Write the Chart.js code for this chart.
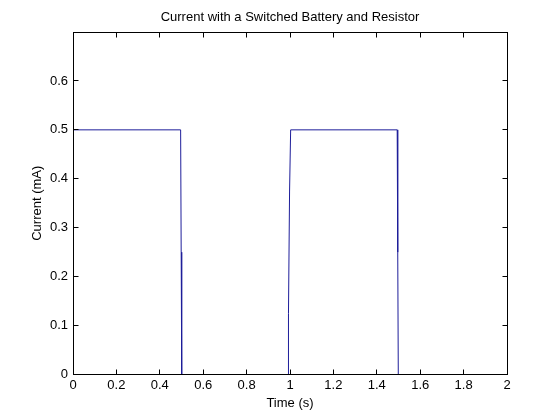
<!DOCTYPE html>
<html>
<head>
<meta charset="utf-8">
<script src="https://cdn.jsdelivr.net/npm/chart.js@4"></script>
<style>
  html, body { margin: 0; padding: 0; background: #fff; }
  canvas { display: block; }
</style>
</head>
<body>
<canvas id="chart" width="560" height="420"></canvas>
<script>
// switched battery: current in mA against time in s
const timeS = [0, 0.496, 0.4985, 0.501, 0.992, 0.993, 0.998, 1.003, 1.494, 1.4965, 1.499, 2];
const currentMA = [0.5, 0.5, 0.25, 0, 0, 0.125, 0.375, 0.5, 0.5, 0.25, 0, 0];
const xTicks = [0, 0.2, 0.4, 0.6, 0.8, 1, 1.2, 1.4, 1.6, 1.8, 2];
const yTicks = [0, 0.1, 0.2, 0.3, 0.4, 0.5, 0.6];

const FONT = "'Liberation Sans', Arial, sans-serif";
const fmt = v => String(Number(v.toFixed(1)));

// matlab-ish box with inward ticks on all four sides
const boxTicks = {
  id: 'boxTicks',
  afterDraw(chart) {
    const { ctx, chartArea: a, scales } = chart;
    const len = 5;
    const L = Math.floor(a.left) + 0.5, R = Math.floor(a.right) + 0.5;
    const T = Math.floor(a.top) + 0.5, B = Math.floor(a.bottom) + 0.5;
    ctx.save();
    ctx.strokeStyle = '#000';
    ctx.lineWidth = 1;
    ctx.beginPath();
    xTicks.forEach(v => {
      const x = Math.floor(scales.x.getPixelForValue(v)) + 0.5;
      ctx.moveTo(x, B); ctx.lineTo(x, B - len);
      ctx.moveTo(x, T); ctx.lineTo(x, T + len);
    });
    yTicks.forEach(v => {
      const y = Math.floor(scales.y.getPixelForValue(v)) + 0.5;
      ctx.moveTo(L, y); ctx.lineTo(L + len, y);
      ctx.moveTo(R, y); ctx.lineTo(R - len, y);
    });
    ctx.stroke();
    ctx.strokeRect(L, T, R - L, B - T);
    ctx.restore();
  }
};

new Chart(document.getElementById('chart'), {
  type: 'line',
  data: {
    datasets: [{
      data: timeS.map((t, i) => ({ x: t, y: currentMA[i] })),
      borderColor: '#1e1e9a',
      borderWidth: 1,
      pointRadius: 0,
      tension: 0,
      fill: false
    }]
  },
  options: {
    responsive: false,
    animation: false,
    layout: { padding: { left: 0, right: 53, top: 0, bottom: 0 } },
    plugins: {
      legend: { display: false },
      tooltip: { enabled: false },
      title: {
        display: true,
        fullSize: false,
        text: 'Current with a Switched Battery and Resistor',
        color: '#000',
        font: { family: FONT, size: 13, weight: 'normal' },
        padding: { top: 9.2, bottom: 7.2 }
      }
    },
    scales: {
      x: {
        type: 'linear',
        min: 0,
        max: 2,
        afterBuildTicks: s => { s.ticks = xTicks.map(v => ({ value: v })); },
        afterFit: s => { s.height = 45.5; },
        grid: { display: false, drawTicks: false },
        border: { display: false },
        ticks: {
          color: '#000',
          padding: 3,
          maxRotation: 0,
          font: { family: FONT, size: 13 },
          callback: v => fmt(v)
        },
        title: {
          display: true,
          text: 'Time (s)',
          color: '#000',
          font: { family: FONT, size: 13 },
          padding: { top: 0, bottom: 9.2 }
        }
      },
      y: {
        type: 'linear',
        min: 0,
        max: 0.7,
        afterBuildTicks: s => { s.ticks = yTicks.map(v => ({ value: v })); },
        afterFit: s => { s.width = 73; },
        grid: { display: false, drawTicks: false },
        border: { display: false },
        ticks: {
          color: '#000',
          padding: 5,
          font: { family: FONT, size: 13 },
          callback: v => fmt(v)
        },
        title: {
          display: true,
          text: 'Current (mA)',
          color: '#000',
          font: { family: FONT, size: 13 },
          padding: { top: 29.2, bottom: 0 }
        }
      }
    }
  },
  plugins: [boxTicks]
});
</script>
</body>
</html>
